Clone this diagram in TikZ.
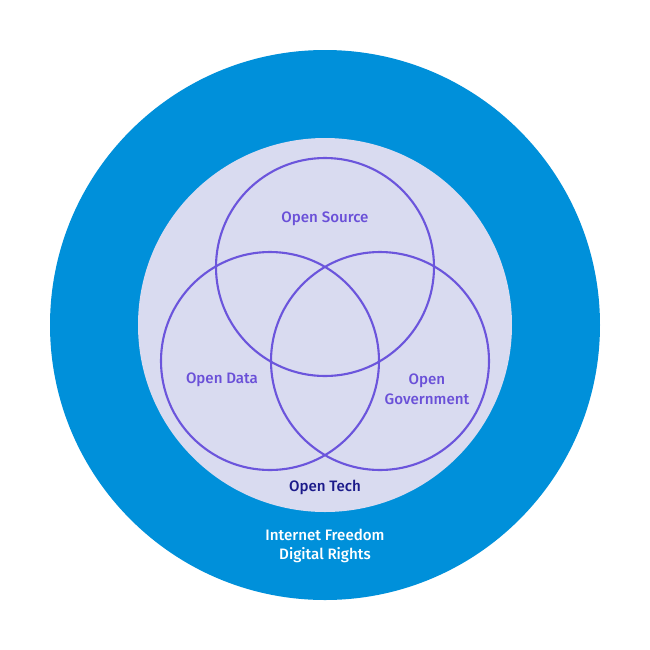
\documentclass[tikz,border=0pt]{standalone}
\usepackage{fontspec}
\setmainfont{Fira Sans Medium}
\definecolor{outerblue}{HTML}{0090DA}
\definecolor{innerfill}{HTML}{D9DBF0}
\definecolor{vennline}{HTML}{6B55DC}
\definecolor{venntext}{HTML}{6A50D8}
\definecolor{techtext}{HTML}{1B1A8A}
\begin{document}
\begin{tikzpicture}[x=0.02cm,y=-0.02cm,
  venn/.style={draw=vennline,line width=1.2pt},
  lbl/.style={font=\fontsize{8.6}{11.2}\selectfont,text=venntext,align=center}]
\useasboundingbox (0,0) rectangle (650,650);
\fill[white] (0,0) rectangle (650,650);
\node[circle,fill=outerblue,minimum size=550*0.02cm,inner sep=0pt] (outer) at (325,325) {};
\node[circle,fill=innerfill,minimum size=374*0.02cm,inner sep=0pt] (inner) at (325,325) {};
\node[circle,venn,minimum size=218*0.02cm,inner sep=0pt] (src) at (325,267) {};
\node[circle,venn,minimum size=218*0.02cm,inner sep=0pt] (data) at (270,361) {};
\node[circle,venn,minimum size=218*0.02cm,inner sep=0pt] (gov) at (380,361) {};
\node[lbl] (tsrc) at (325,219) {Open Source};
\node[lbl] (tdata) at (222,380) {Open Data};
\node[lbl] (tgov) at (427,389) {Open\\Government};
\node[lbl,text=techtext] (ttech) at (325,487) {Open Tech};
\node[lbl,text=white] (tnet) at (325,546) {Internet Freedom\\Digital Rights};
\end{tikzpicture}
\end{document}
